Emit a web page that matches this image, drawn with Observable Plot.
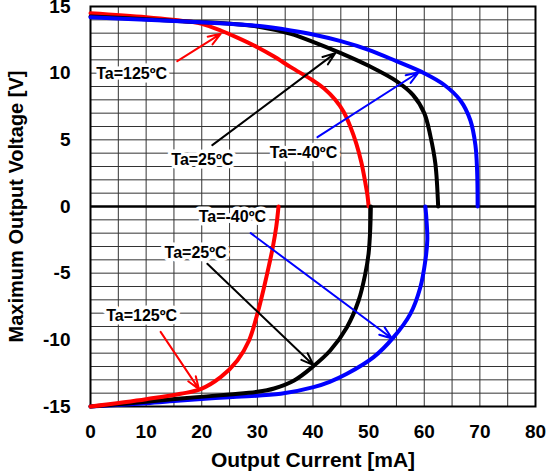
<!DOCTYPE html>
<html>
<head>
<meta charset="utf-8">
<script src="https://cdn.jsdelivr.net/npm/d3@7"></script>
<script src="https://cdn.jsdelivr.net/npm/@observablehq/plot@0.6"></script>
<style>
  html, body { margin: 0; padding: 0; background: #fff; }
</style>
</head>
<body>
<div id="chart"></div>
<script>
// ---- data (Output Current [mA], Maximum Output Voltage [V]) ----
const red125UpI   = [0, 10, 18, 20, 23.4, 26.5, 30, 33, 36, 40, 42, 44, 45.5, 46.7, 47.8, 48.7, 49.4, 49.8, 50];
const red125UpV   = [14.5, 14.2, 13.85, 13.7, 13.2, 12.65, 11.95, 11.25, 10.45, 9.45, 8.85, 8.0, 7.1, 6.0, 4.7, 3.3, 1.8, 0.8, 0];
const blk25UpI    = [0, 10, 18, 24, 30, 36, 40, 45, 50, 55, 58, 60, 61.1, 62, 62.5];
const blk25UpV    = [14.25, 14.05, 13.85, 13.75, 13.5, 12.95, 12.35, 11.5, 10.55, 9.4, 8.35, 7.0, 5.3, 3.2, 0];
const blu40UpI    = [0, 10, 18, 25, 30, 36, 40, 45, 50, 55, 60, 63.5, 66.5, 68.3, 69.2, 69.5, 69.6];
const blu40UpV    = [14.2, 14.0, 13.85, 13.7, 13.55, 13.2, 12.9, 12.4, 11.75, 10.9, 10.0, 9.15, 7.95, 6.45, 4.6, 2.7, 0];

const red125LoI   = [0, 10, 16.2, 19.8, 23.4, 26.4, 28.5, 30, 31.2, 32.1, 32.8, 33.4, 33.8];
const red125LoV   = [-15, -14.45, -14.05, -13.7, -12.8, -11.55, -10.05, -8.05, -6.05, -4.4, -3.0, -1.5, 0];
const blk25LoI    = [0, 10, 16.2, 25, 30, 33, 36.6, 40, 43.1, 46.1, 48.2, 49.4, 50, 50.3, 50.4];
const blk25LoV    = [-15, -14.65, -14.4, -14.1, -13.9, -13.65, -13.05, -12, -10.8, -9.05, -7.05, -5.05, -3.5, -1.6, 0];
const blu40LoI    = [0, 10, 16.2, 25, 34.2, 40.1, 43, 46.1, 50.9, 54.5, 57.5, 59.3, 60.2, 60.55, 60.4, 60.2];
const blu40LoV    = [-15, -14.75, -14.55, -14.3, -14.05, -13.55, -13.15, -12.55, -11.3, -9.8, -8.05, -6.05, -4.05, -2.5, -1.0, 0];

const xTicks = [0, 10, 20, 30, 40, 50, 60, 70, 80];
const yTicks = [-15, -10, -5, 0, 5, 10, 15];

// annotation labels and arrows (data units)
const labelText  = ["Ta=125ºC", "Ta=25ºC", "Ta=-40ºC", "Ta=-40ºC", "Ta=25ºC", "Ta=125ºC"];
const labelI     = [7.4, 20.1, 38.3, 25.5, 18.9, 9.2];
const labelV     = [9.98, 3.5, 4.05, -0.75, -3.5, -8.2];
const arrowI1    = [15.6, 21.9, 40.8, 28.8, 21.0, 12.6];
const arrowV1    = [10.9, 4.6, 5.2, -2.0, -4.3, -9.4];
const arrowI2    = [23.4, 44.0, 59.0, 54.2, 40.1, 19.5];
const arrowV2    = [12.95, 11.5, 10.07, -9.9, -11.9, -13.7];
const arrowColor = ["#ff0000", "#000000", "#0000ff", "#0000ff", "#000000", "#ff0000"];

const series = [
  {I: red125UpI, V: red125UpV, c: "#ff0000"},
  {I: blk25UpI, V: blk25UpV, c: "#000000"},
  {I: blu40UpI, V: blu40UpV, c: "#0000ff"},
  {I: blu40LoI, V: blu40LoV, c: "#0000ff"},
  {I: blk25LoI, V: blk25LoV, c: "#000000"},
  {I: red125LoI, V: red125LoV, c: "#ff0000"}
];
const lineMarks = series.map(s => Plot.line(s.I.map((x, i) => ({x, y: s.V[i]})), {
  x: "x", y: "y", stroke: s.c, strokeWidth: 4, curve: "catmull-rom"
}));

const labels = labelText.map((t, i) => ({t, x: labelI[i], y: labelV[i]}));
const arrows = arrowI1.map((x1, i) => ({x1, y1: arrowV1[i], x2: arrowI2[i], y2: arrowV2[i], c: arrowColor[i]}));

const chart = Plot.plot({
  width: 550,
  height: 473,
  marginLeft: 90,
  marginRight: 15,
  marginTop: 6,
  marginBottom: 67,
  style: {fontFamily: "'Liberation Sans', Arial, sans-serif", fontSize: "19px", fontWeight: "bold", background: "#fff", color: "#000"},
  x: {domain: [0, 80]},
  y: {domain: [-15, 15]},
  marks: [
    Plot.ruleX(d3.range(0, 81, 5), {stroke: "#333", strokeWidth: 1}),
    Plot.ruleY(d3.range(-15, 16, 1), {stroke: "#333", strokeWidth: 1}),
    Plot.ruleY([0], {stroke: "#000", strokeWidth: 2.5}),
    Plot.frame({stroke: "#000", strokeWidth: 2}),
    ...lineMarks,
    Plot.arrow(arrows, {x1: "x1", y1: "y1", x2: "x2", y2: "y2", stroke: "c", strokeWidth: 2, headLength: 10, headAngle: 40}),
    Plot.text(labels, {x: "x", y: "y", text: "t", fontSize: 16, fontWeight: "bold", fill: "#000", stroke: "#fff", strokeWidth: 7}),
    Plot.axisX({ticks: xTicks, tickSize: 0, tickPadding: 18, tickFormat: d => String(d)}),
    Plot.axisX({ticks: [], label: "Output Current [mA]", labelAnchor: "center", labelArrow: "none", labelOffset: 60, fontSize: 21}),
    Plot.axisY({ticks: yTicks, tickSize: 0, tickPadding: 20, tickFormat: d => String(d)}),
    Plot.axisY({ticks: [], label: "Maximum Output Voltage [V]", labelAnchor: "center", labelArrow: "none", labelOffset: 82, fontSize: 20})
  ]
});
document.getElementById("chart").appendChild(chart);
</script>
</body>
</html>
